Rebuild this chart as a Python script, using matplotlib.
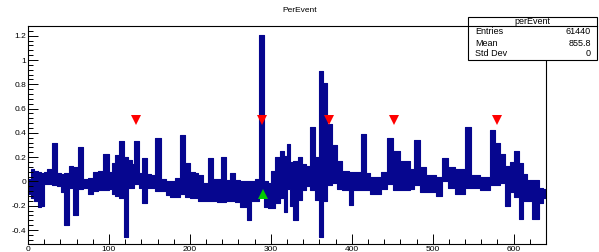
import numpy as np
import matplotlib.pyplot as plt
from matplotlib.patches import Rectangle
from matplotlib.ticker import MultipleLocator

plt.rcParams['font.family'] = ['Liberation Sans', 'DejaVu Sans']

# band envelope per x segment: edges, low and high values
edges = [0, 4, 8, 12, 16, 20, 24, 30, 36, 41, 45, 51, 56, 62, 68, 74, 80, 86, 93, 100,
         104, 108, 112, 118, 124, 128, 131, 137, 141, 147, 152, 157, 164, 170, 176, 182,
         188, 194, 200, 206, 210, 216, 222, 228, 234, 238, 245, 250, 256, 262, 270, 276,
         280, 285, 292, 296, 300, 305, 311, 316, 320, 324, 328, 333, 338, 344, 349, 355,
         359, 365, 370, 376, 382, 388, 396, 402, 412, 418, 422, 436, 444, 451, 460, 472,
         477, 484, 492, 504, 512, 519, 528, 540, 547, 558, 571, 577, 583, 589, 595, 600,
         607, 611, 617, 623, 631, 636, 640]
lo = [-0.10, -0.14, -0.16, -0.21, -0.20, -0.02, -0.02, -0.03, -0.04, -0.09,
      -0.36, -0.05, -0.28, -0.06, -0.05, -0.10, -0.08, -0.07, -0.07, -0.06,
      -0.10, -0.12, -0.14, -0.46, -0.05, -0.05, -0.02, -0.05, -0.18, -0.05,
      -0.05, -0.08, -0.08, -0.11, -0.13, -0.13, -0.10, -0.13, -0.14, -0.14,
      -0.16, -0.16, -0.16, -0.16, -0.17, -0.17, -0.16, -0.16, -0.17, -0.21,
      -0.32, -0.16, -0.16, -0.12, -0.21, -0.22, -0.22, -0.18, -0.14, -0.25,
      -0.06, -0.20, -0.32, -0.15, -0.07, -0.04, -0.07, -0.15, -0.46, -0.16,
      -0.03, -0.01, -0.06, -0.07, -0.19, -0.07, -0.07, -0.07, -0.10, -0.06,
      -0.02, -0.07, -0.07, -0.06, -0.03, -0.09, -0.09, -0.12, 0.00, -0.05,
      -0.10, -0.05, -0.05, -0.07, -0.03, -0.03, -0.01, -0.20, -0.09, -0.13,
      -0.31, -0.16, -0.16, -0.31, -0.18, -0.14]
hi = [0.02, 0.10, 0.09, 0.08, 0.07, 0.08, 0.10, 0.32, 0.07, 0.06,
      0.07, 0.13, 0.12, 0.28, 0.02, 0.03, 0.08, 0.09, 0.23, 0.08,
      0.15, 0.22, 0.33, 0.20, 0.18, 0.14, 0.33, 0.07, 0.19, 0.06,
      0.05, 0.36, 0.02, 0.00, 0.00, 0.03, 0.38, 0.15, 0.08, 0.07,
      0.05, -0.01, 0.19, 0.02, 0.02, 0.20, 0.01, 0.07, 0.01, 0.00,
      0.00, 0.00, 0.02, 1.21, 0.00, -0.01, 0.09, 0.20, 0.25, 0.21,
      0.31, 0.16, 0.17, 0.20, 0.14, 0.13, 0.45, 0.20, 0.91, 0.81,
      0.47, 0.30, 0.17, 0.09, 0.08, 0.08, 0.39, 0.07, 0.035, 0.075,
      0.36, 0.25, 0.17, 0.10, 0.34, 0.12, 0.05, 0.04, 0.19, 0.12,
      0.10, 0.45, 0.05, 0.04, 0.42, 0.32, 0.23, 0.13, 0.16, 0.25,
      0.15, 0.06, 0.01, 0.01, -0.05, -0.06]

peak_x = [134, 289, 372, 452, 580]
peak_y = [0.51, 0.51, 0.51, 0.51, 0.51]
base_x = [290]
base_y = [-0.1]

fig = plt.figure(figsize=(5.99, 2.52), dpi=100)
ax = fig.add_axes([28 / 599, 1 - 244 / 252, (546 - 28) / 599, (244 - 26) / 252])

navy = '#06068f'
ax.fill_between(edges, lo + [lo[-1]], hi + [hi[-1]], step='post',
                color=navy, linewidth=0.8, edgecolor=navy)

ax.plot(peak_x, peak_y, 'v', color='#ff0000', markersize=6.5, markeredgewidth=0)
ax.plot(base_x, base_y, '^', color='#00cc00', markersize=6.5, markeredgewidth=0)

ax.set_xlim(0, 640)
ax.set_ylim(-0.515, 1.28)
ax.xaxis.set_major_locator(MultipleLocator(100))
ax.xaxis.set_minor_locator(MultipleLocator(20))
ax.yaxis.set_major_locator(MultipleLocator(0.2))
ax.yaxis.set_minor_locator(MultipleLocator(0.04))
ax.tick_params(which='both', direction='in', labelsize=6, width=0.7, pad=1.5)
ax.tick_params(which='major', length=7)
ax.tick_params(which='minor', length=3.5)
ax.set_yticks([-0.4, -0.2, 0, 0.2, 0.4, 0.6, 0.8, 1, 1.2])
ax.set_yticklabels(['-0.4', '-0.2', '0', '0.2', '0.4', '0.6', '0.8', '1', '1.2'])
for s in ax.spines.values():
    s.set_linewidth(0.8)

fig.text(300 / 599, 1 - 10 / 252, 'PerEvent', ha='center', va='center', fontsize=6)

# stats box
bx0, bx1 = 468 / 599, 597 / 599
by0, by1 = 1 - 60 / 252, 1 - 17 / 252
fig.patches.append(Rectangle((bx0, by0), bx1 - bx0, by1 - by0, transform=fig.transFigure,
                             facecolor='white', edgecolor='black', linewidth=0.8, zorder=5))
fig.lines.append(plt.Line2D([bx0, bx1], [1 - 26 / 252] * 2, transform=fig.transFigure,
                            color='black', linewidth=0.8, zorder=6))
fig.text((bx0 + bx1) / 2, 1 - 21.5 / 252, 'perEvent', ha='center', va='center', fontsize=6.5, zorder=7)
rows = [('Entries', '61440'), ('Mean', '855.8'), ('Std Dev', '0')]
for i, (k, v) in enumerate(rows):
    yy = 1 - (32 + 11 * i) / 252
    fig.text(475 / 599, yy, k, ha='left', va='center', fontsize=6.5, zorder=7)
    fig.text(591 / 599, yy, v, ha='right', va='center', fontsize=6.5, zorder=7)

fig.savefig('out.png', dpi=100)
